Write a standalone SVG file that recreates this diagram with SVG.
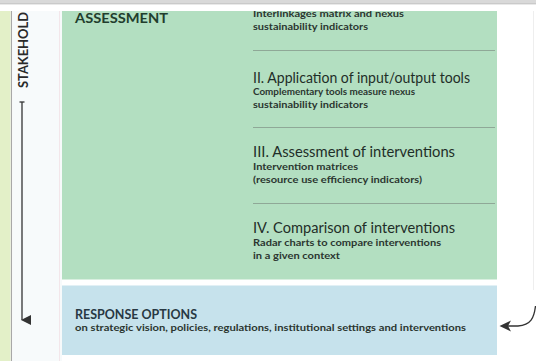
<svg xmlns="http://www.w3.org/2000/svg" width="536" height="361" viewBox="0 0 536 361">
  <defs>
    <style>
      .title { font-family: Lato, "Open Sans", "Liberation Sans", sans-serif; font-size: 14.5px; fill: #1f2e28; }
      .sub { font-family: Lato, "Open Sans", "Liberation Sans", sans-serif; font-size: 10px; font-weight: bold; fill: #2b3630; }
      .head { font-family: Lato, "Open Sans", "Liberation Sans", sans-serif; font-size: 14px; font-weight: bold; }
      .divider { stroke: #8fa897; stroke-width: 1; }
      .conn { fill: none; stroke: #333; stroke-width: 1.3; }
    </style>
    <clipPath id="pane">
      <rect x="0" y="11" width="536" height="350"/>
    </clipPath>
    <marker id="headDown" viewBox="0 0 10 10" refX="5" refY="9" markerWidth="10" markerHeight="10" markerUnits="userSpaceOnUse" orient="auto">
      <path d="M0,0 L10,0 L5,10 Z" fill="#333"/>
    </marker>
  </defs>

  <!-- page frame -->
  <rect x="0" y="0" width="536" height="361" fill="#ffffff"/>
  <rect x="0" y="0" width="536" height="3" fill="#d9d9d9"/>
  <line x1="0" y1="3.8" x2="536" y2="3.8" stroke="#b4b4b4" stroke-width="1"/>

  <!-- left side band -->
  <rect x="0" y="11" width="10.5" height="350" fill="#e3f0c8"/>
  <line x1="11.5" y1="11" x2="11.5" y2="361" stroke="#a8a8a8" stroke-width="1.2"/>
  <rect x="12.5" y="11" width="49.5" height="350" fill="#f7fafb"/>
  <line x1="59.5" y1="11" x2="59.5" y2="361" stroke="#f3e6ea" stroke-width="1"/>
  <line x1="533.5" y1="11" x2="533.5" y2="290" stroke="#eeeeee" stroke-width="1"/>

  <g id="stakeholders">
    <text x="0" y="0" transform="translate(27.5,88) rotate(-90)" font-family="Lato, 'Open Sans', 'Liberation Sans', sans-serif" font-size="13" font-weight="bold" fill="#2a2a2a" textLength="76" lengthAdjust="spacingAndGlyphs">STAKEHOLD</text>
  </g>

  <!-- assessment panel -->
  <g id="assessment" clip-path="url(#pane)">
    <rect x="62" y="11" width="435" height="268.5" fill="#b3dfc1"/>
    <text class="head" x="75" y="22.5" fill="#223d2d" textLength="93" lengthAdjust="spacingAndGlyphs">ASSESSMENT</text>
  </g>

  <g id="step1" clip-path="url(#pane)">
    <text class="sub" x="253" y="16.5" textLength="151" lengthAdjust="spacingAndGlyphs">Interlinkages matrix and nexus</text>
    <text class="sub" x="253" y="30" textLength="115" lengthAdjust="spacingAndGlyphs">sustainability indicators</text>
    <line class="divider" x1="253" y1="50.5" x2="495" y2="50.5"/>
  </g>

  <g id="step2">
    <text class="title" x="253" y="82.5" textLength="217" lengthAdjust="spacingAndGlyphs">II. Application of input/output tools</text>
    <text class="sub" x="253" y="95" textLength="162" lengthAdjust="spacingAndGlyphs">Complementary tools measure nexus</text>
    <text class="sub" x="253" y="108" textLength="115" lengthAdjust="spacingAndGlyphs">sustainability indicators</text>
    <line class="divider" x1="253" y1="127.5" x2="495" y2="127.5"/>
  </g>

  <g id="step3">
    <text class="title" x="253" y="157" textLength="202" lengthAdjust="spacingAndGlyphs">III. Assessment of interventions</text>
    <text class="sub" x="253" y="170" textLength="105" lengthAdjust="spacingAndGlyphs">Intervention matrices</text>
    <text class="sub" x="253" y="183" textLength="169" lengthAdjust="spacingAndGlyphs">(resource use efficiency indicators)</text>
    <line class="divider" x1="253" y1="203.5" x2="495" y2="203.5"/>
  </g>

  <g id="step4">
    <text class="title" x="253" y="232.5" textLength="202" lengthAdjust="spacingAndGlyphs">IV. Comparison of interventions</text>
    <text class="sub" x="253" y="245.5" textLength="188" lengthAdjust="spacingAndGlyphs">Radar charts to compare interventions</text>
    <text class="sub" x="253" y="259" textLength="87" lengthAdjust="spacingAndGlyphs">in a given context</text>
  </g>

  <!-- response panel -->
  <g id="response">
    <rect x="62" y="285.5" width="435" height="69.5" fill="#c6e2ec"/>
    <text class="head" x="75" y="318.5" fill="#283843" textLength="122" lengthAdjust="spacingAndGlyphs">RESPONSE OPTIONS</text>
    <text class="sub" x="75" y="331" fill="#24323a" textLength="391" lengthAdjust="spacingAndGlyphs">on strategic vision, policies, regulations, institutional settings and interventions</text>
  </g>

  <!-- connectors -->
  <g id="connectors">
    <line class="conn" x1="19.5" y1="102" x2="24.5" y2="102"/>
    <line class="conn" x1="22" y1="102" x2="22" y2="320" marker-end="url(#headDown)"/>
    <path class="conn" d="M535.5,306 C534,318 531,325 518,326 L506,326"/>
    <path d="M499.5,326 L511,320.5 L508,326 L511,331.5 Z" fill="#333"/>
  </g>
</svg>
